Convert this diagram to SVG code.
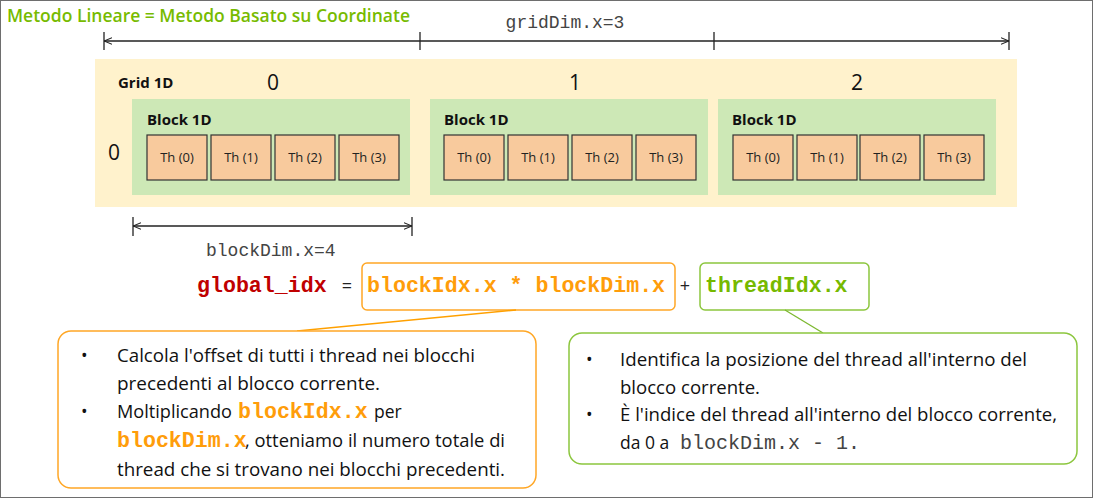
<svg xmlns="http://www.w3.org/2000/svg" width="1093" height="498" viewBox="0 0 1093 498">
<defs>
<marker id="arr" viewBox="0 0 10 10" refX="10" refY="5" markerWidth="8" markerHeight="8" orient="auto-start-reverse" markerUnits="userSpaceOnUse">
<path d="M0,1 L10,5 L0,9" fill="none" stroke="#222" stroke-width="1.3"/>
</marker>
<style>
.sans{font-family:"Open Sans","Noto Sans","Liberation Sans",sans-serif}
.mono{font-family:"Liberation Mono","Courier New",monospace}
.th rect{fill:#f8ca9d;stroke:#333;stroke-width:1.2}
.th text{font-family:"Open Sans","Noto Sans",sans-serif;font-size:13px;fill:#222;text-anchor:middle}
.blk{fill:#cde8b6}
.lbl{font-family:"Open Sans","Noto Sans",sans-serif;font-size:15px;font-weight:bold;fill:#111}
.num{font-family:"Open Sans","Noto Sans",sans-serif;font-size:21px;fill:#111}
.dim{stroke:#222;stroke-width:1.3;fill:none}
.tick{stroke:#222;stroke-width:1.3}
.body{font-family:"Open Sans","Noto Sans",sans-serif;font-size:17.5px;fill:#111}
.oc{font-family:"Liberation Mono",monospace;font-weight:bold;fill:#ff9d0a}
</style>
</defs>
<rect x="0.5" y="0.5" width="1092" height="497" fill="#ffffff" stroke="#6e6e6e" stroke-width="1"/>
<text x="7" y="22" font-family="'Open Sans','Noto Sans',sans-serif" font-weight="600" font-size="18" fill="#77bb00" textLength="403" lengthAdjust="spacingAndGlyphs">Metodo Lineare = Metodo Basato su Coordinate</text>

<g id="griddim">
<text x="565" y="28" class="mono" font-size="18" fill="#444" text-anchor="middle">gridDim.x=3</text>
<line class="dim" x1="104" y1="41" x2="1009" y2="41" marker-start="url(#arr)" marker-end="url(#arr)"/>
<line class="tick" x1="104" y1="32" x2="104" y2="50"/>
<line class="tick" x1="420" y1="32" x2="420" y2="50"/>
<line class="tick" x1="714" y1="32" x2="714" y2="50"/>
<line class="tick" x1="1009" y1="32" x2="1009" y2="50"/>
</g>

<g id="grid">
<rect x="95" y="59" width="922" height="148" fill="#fff2cc"/>
<text x="118" y="88" class="lbl">Grid 1D</text>
<text x="273" y="90" class="num" text-anchor="middle">0</text>
<text x="575" y="90" class="num" text-anchor="middle">1</text>
<text x="857" y="90" class="num" text-anchor="middle">2</text>
<text x="114" y="160" class="num" text-anchor="middle">0</text>
</g>

<g id="block0">
<rect class="blk" x="132" y="99" width="278" height="96"/>
<text x="147" y="125" class="lbl">Block 1D</text>
<g class="th">
<rect x="147" y="135" width="60" height="45"/><text x="177" y="162">Th (0)</text>
<rect x="211" y="135" width="60" height="45"/><text x="241" y="162">Th (1)</text>
<rect x="275" y="135" width="60" height="45"/><text x="305" y="162">Th (2)</text>
<rect x="339" y="135" width="60" height="45"/><text x="369" y="162">Th (3)</text>
</g>
</g>

<g id="block1">
<rect class="blk" x="430" y="99" width="278" height="96"/>
<text x="444" y="125" class="lbl">Block 1D</text>
<g class="th">
<rect x="444" y="135" width="60" height="45"/><text x="474" y="162">Th (0)</text>
<rect x="508" y="135" width="60" height="45"/><text x="538" y="162">Th (1)</text>
<rect x="572" y="135" width="60" height="45"/><text x="602" y="162">Th (2)</text>
<rect x="636" y="135" width="60" height="45"/><text x="666" y="162">Th (3)</text>
</g>
</g>

<g id="block2">
<rect class="blk" x="718" y="99" width="278" height="96"/>
<text x="732" y="125" class="lbl">Block 1D</text>
<g class="th">
<rect x="733" y="135" width="60" height="45"/><text x="763" y="162">Th (0)</text>
<rect x="797" y="135" width="60" height="45"/><text x="827" y="162">Th (1)</text>
<rect x="860" y="135" width="60" height="45"/><text x="890" y="162">Th (2)</text>
<rect x="924" y="135" width="60" height="45"/><text x="954" y="162">Th (3)</text>
</g>
</g>

<g id="blockdim">
<line class="dim" x1="133" y1="226" x2="412" y2="226" marker-start="url(#arr)" marker-end="url(#arr)"/>
<line class="tick" x1="133" y1="217" x2="133" y2="236"/>
<line class="tick" x1="412" y1="217" x2="412" y2="236"/>
<text x="206" y="256" class="mono" font-size="18" fill="#444">blockDim.x=4</text>
</g>

<g id="formula">
<text x="197" y="292" class="mono" font-weight="bold" font-size="21.6" fill="#c00000">global_idx</text>
<text x="347" y="292" class="sans" font-size="18" fill="#222" text-anchor="middle">=</text>
<text x="685" y="292" class="sans" font-size="18" fill="#222" text-anchor="middle">+</text>
</g>

<g id="term-block">
<rect x="362" y="263" width="313" height="47" rx="5" fill="#fff" stroke="#ffa726" stroke-width="1.5"/>
<text x="367" y="292" class="oc" font-size="21.6">blockIdx.x * blockDim.x</text>
</g>

<g id="term-thread">
<rect x="700" y="263" width="169" height="47" rx="5" fill="#fff" stroke="#8cc63e" stroke-width="1.5"/>
<text x="705" y="292" class="mono" font-weight="bold" font-size="21.6" fill="#76b900">threadIdx.x</text>
</g>

<g id="connectors">
<line x1="516" y1="310" x2="297" y2="331" stroke="#ffa000" stroke-width="1.5"/>
<line x1="785" y1="310" x2="823" y2="333" stroke="#7cb82f" stroke-width="1.3"/>
</g>

<g id="callout-block">
<rect x="58" y="331" width="478" height="157" rx="13" fill="#fff" stroke="#ffa726" stroke-width="1.5"/>
<text class="body" x="81" y="362" font-size="14">•</text>
<text class="body" x="117" y="362" textLength="358" lengthAdjust="spacingAndGlyphs">Calcola l'offset di tutti i thread nei blocchi</text>
<text class="body" x="117" y="390" textLength="263" lengthAdjust="spacingAndGlyphs">precedenti al blocco corrente.</text>
<text class="body" x="81" y="418" font-size="14">•</text>
<text class="body" x="117" y="418"><tspan textLength="115" lengthAdjust="spacingAndGlyphs">Moltiplicando</tspan><tspan class="oc" font-size="21.6" x="238">blockIdx.x</tspan><tspan x="374">per</tspan></text>
<text class="body" x="117" y="447"><tspan class="oc" font-size="21.6">blockDim.x</tspan><tspan x="245" textLength="260" lengthAdjust="spacingAndGlyphs">, otteniamo il numero totale di</tspan></text>
<text class="body" x="117" y="476" textLength="388" lengthAdjust="spacingAndGlyphs">thread che si trovano nei blocchi precedenti.</text>
</g>

<g id="callout-thread">
<rect x="569" y="333" width="508" height="131" rx="13" fill="#fff" stroke="#8cc63e" stroke-width="1.5"/>
<text class="body" x="586" y="366" font-size="14">•</text>
<text class="body" x="620" y="366" textLength="407" lengthAdjust="spacingAndGlyphs">Identifica la posizione del thread all'interno del</text>
<text class="body" x="620" y="394" textLength="140" lengthAdjust="spacingAndGlyphs">blocco corrente.</text>
<text class="body" x="586" y="421" font-size="14">•</text>
<text class="body" x="620" y="421" textLength="437" lengthAdjust="spacingAndGlyphs">È l'indice del thread all'interno del blocco corrente,</text>
<text class="body" x="620" y="449">da 0 a<tspan class="mono" font-size="20" fill="#444" x="680">blockDim.x - 1.</tspan></text>
</g>
</svg>
